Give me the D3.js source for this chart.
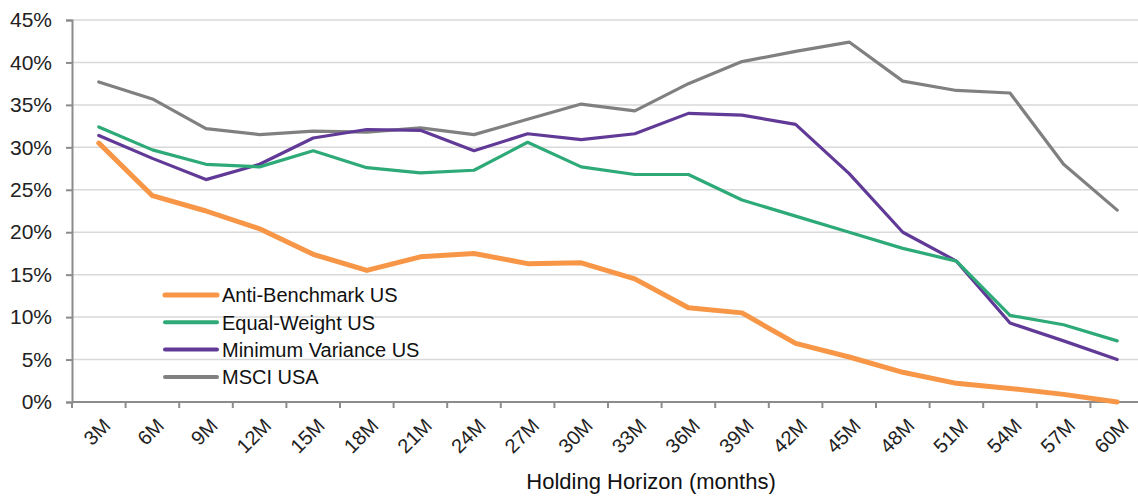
<!DOCTYPE html>
<html>
<head>
<meta charset="utf-8">
<script src="https://cdn.jsdelivr.net/npm/d3@7"></script>
<style>
	body { margin: 0; background: #fff; }
	svg { display: block; font-family: "Liberation Sans", Arial, sans-serif; }
</style>
</head>
<body>
<svg id="chart" width="1138" height="496"></svg>
<script>
'use strict';

//Holding horizons (categories)
var horizons = ['3M','6M','9M','12M','15M','18M','21M','24M','27M','30M',
	'33M','36M','39M','42M','45M','48M','51M','54M','57M','60M'];

//Series values (percent)
var antiBenchmark = [30.5,24.3,22.5,20.4,17.4,15.5,17.1,17.5,16.3,16.4,
	14.5,11.1,10.5,6.9,5.3,3.5,2.2,1.6,0.9,0.0];
var equalWeight = [32.4,29.7,28.0,27.7,29.6,27.6,27.0,27.3,30.6,27.7,
	26.8,26.8,23.8,21.9,20.0,18.1,16.6,10.2,9.1,7.2];
var minVariance = [31.4,28.7,26.2,28.0,31.1,32.1,32.0,29.6,31.6,30.9,
	31.6,34.0,33.8,32.7,26.9,20.0,16.6,9.3,7.2,5.0];
var msciUsa = [37.7,35.7,32.2,31.5,31.9,31.8,32.3,31.5,33.3,35.1,
	34.3,37.5,40.1,41.3,42.4,37.8,36.7,36.4,28.0,22.6];

//Y tick values
var yTicks = [0,5,10,15,20,25,30,35,40,45];

(function() {
	var series = [
		{name: 'Anti-Benchmark US', values: antiBenchmark, color: '#F79646', width: 5},
		{name: 'Equal-Weight US', values: equalWeight, color: '#2EAA78', width: 3.2},
		{name: 'Minimum Variance US', values: minVariance, color: '#603A96', width: 3.2},
		{name: 'MSCI USA', values: msciUsa, color: '#808080', width: 3.2}
	];

	var svg = d3.select('#chart');
	var plotLeft = 72, plotRight = 1144, plotTop = 20, plotBottom = 402;

	/***************************************
	 * SCALES
	 ***************************************/
	var x = d3.scaleBand().domain(horizons).range([plotLeft, plotRight]);
	var y = d3.scaleLinear().domain([0, 45]).range([plotBottom, plotTop]);

	//Gridlines
	svg.append('g').selectAll('line')
		.data(yTicks.filter(function(d){return d > 0;}))
		.enter().append('line')
			.attr('x1', plotLeft).attr('x2', plotRight)
			.attr('y1', function(d){return y(d);})
			.attr('y2', function(d){return y(d);})
			.attr('stroke', '#d9d9d9')
			.attr('stroke-width', 1.5);

	//Y axis
	var yAxis = svg.append('g')
		.attr('transform', 'translate(' + plotLeft + ',0)')
		.call(d3.axisLeft(y).tickValues(yTicks).tickSize(6).tickPadding(14)
			.tickFormat(function(d){return d + '%';}));
	yAxis.select('.domain').attr('stroke', '#8c8c8c').attr('stroke-width', 2);
	yAxis.selectAll('.tick line').attr('stroke', '#8c8c8c').attr('stroke-width', 2);
	yAxis.selectAll('.tick text')
		.attr('fill', '#222')
		.style('font-size', '21px');

	//X axis: ticks on category boundaries
	var xAxis = svg.append('g').attr('transform', 'translate(0,' + plotBottom + ')');
	xAxis.append('line')
		.attr('x1', plotLeft).attr('x2', plotRight)
		.attr('stroke', '#8c8c8c').attr('stroke-width', 2);
	xAxis.selectAll('.bnd')
		.data(horizons)
		.enter().append('line')
			.attr('x1', function(d){return x(d);})
			.attr('x2', function(d){return x(d);})
			.attr('y1', 0).attr('y2', 6)
			.attr('stroke', '#8c8c8c').attr('stroke-width', 2);
	xAxis.selectAll('.lbl')
		.data(horizons)
		.enter().append('text')
			.attr('text-anchor', 'end')
			.attr('transform', function(d){
				return 'translate(' + (x(d) + x.bandwidth() / 2 + 8) + ',20) rotate(-45)';
			})
			.attr('dy', '0.35em')
			.attr('fill', '#222')
			.style('font-size', '20px')
			.text(function(d){return d;});

	//Axis title
	svg.append('text')
		.attr('x', 651).attr('y', 489)
		.attr('text-anchor', 'middle')
		.attr('fill', '#111')
		.style('font-size', '22px')
		.text('Holding Horizon (months)');

	/***************************************
	 * LINES
	 ***************************************/
	var line = d3.line()
		.x(function(d, i){return x(horizons[i]) + x.bandwidth() / 2;})
		.y(function(d){return y(d);});

	//Draw in reverse so Anti-Benchmark is on top
	svg.append('g').selectAll('path')
		.data(series.slice().reverse())
		.enter().append('path')
			.attr('d', function(s){return line(s.values);})
			.attr('fill', 'none')
			.attr('stroke', function(s){return s.color;})
			.attr('stroke-width', function(s){return s.width;})
			.attr('stroke-linejoin', 'round')
			.attr('stroke-linecap', 'round');

	/***************************************
	 * LEGEND
	 ***************************************/
	var legend = svg.append('g').attr('transform', 'translate(165,295)');
	var rows = legend.selectAll('g')
		.data(series)
		.enter().append('g')
			.attr('transform', function(d, i){return 'translate(0,' + (i * 27.3) + ')';});
	rows.append('line')
		.attr('x1', 0).attr('x2', 52)
		.attr('stroke', function(d){return d.color;})
		.attr('stroke-width', function(d, i){return i === 0 ? 5 : 4;})
		.attr('stroke-linecap', 'round');
	rows.append('text')
		.attr('x', 57)
		.attr('dy', '0.36em')
		.attr('fill', '#111')
		.style('font-size', '20px')
		.text(function(d){return d.name;});
})();
</script>
</body>
</html>
